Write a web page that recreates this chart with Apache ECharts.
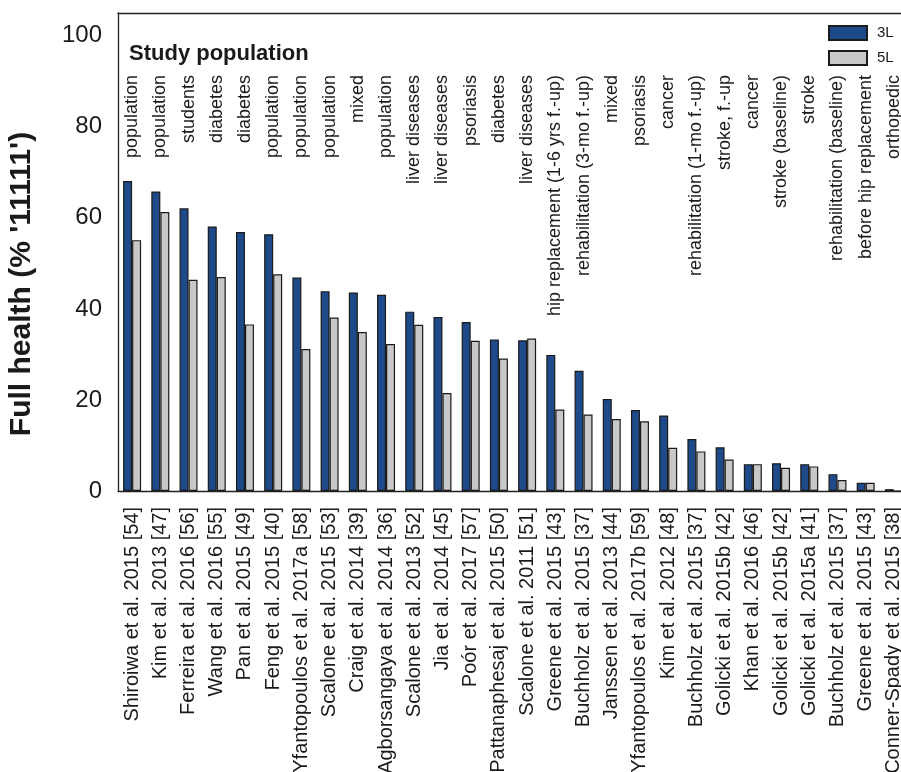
<!DOCTYPE html>
<html>
<head>
<meta charset="utf-8">
<title>Full health (% '11111') by study</title>
<script src="https://cdn.jsdelivr.net/npm/echarts@6/dist/echarts.min.js"></script>
<style>
  html, body { margin: 0; padding: 0; background: #fff; }
  #chart { width: 901px; height: 772px; }
</style>
</head>
<body>
<div id="chart"></div>
<script>
// Studies, ordered by share of respondents in full health (3L version)
const studies = [
  'Shiroiwa et al. 2015 [54]', 'Kim et al. 2013 [47]', 'Ferreira et al. 2016 [56]',
  'Wang et al. 2016 [55]', 'Pan et al. 2015 [49]', 'Feng et al. 2015 [40]',
  'Yfantopoulos et al. 2017a [58]', 'Scalone et al. 2015 [53]', 'Craig et al. 2014 [39]',
  'Agborsangaya et al. 2014 [36]', 'Scalone et al. 2013 [52]', 'Jia et al. 2014 [45]',
  'Poór et al. 2017 [57]', 'Pattanaphesaj et al. 2015 [50]', 'Scalone et al. 2011 [51]',
  'Greene et al. 2015 [43]', 'Buchholz et al. 2015 [37]', 'Janssen et al. 2013 [44]',
  'Yfantopoulos et al. 2017b [59]', 'Kim et al. 2012 [48]', 'Buchholz et al. 2015 [37]',
  'Golicki et al. 2015b [42]', 'Khan et al. 2016 [46]', 'Golicki et al. 2015b [42]',
  'Golicki et al. 2015a [41]', 'Buchholz et al. 2015 [37]', 'Greene et al. 2015 [43]',
  'Conner-Spady et al. 2015 [38]'
];

// Study population of each study
const populations = [
  'population', 'population', 'students', 'diabetes', 'diabetes', 'population',
  'population', 'population', 'mixed', 'population', 'liver diseases', 'liver diseases',
  'psoriasis', 'diabetes', 'liver diseases', 'hip replacement (1-6 yrs f.-up)',
  'rehabilitation (3-mo f.-up)', 'mixed', 'psoriasis', 'cancer',
  'rehabilitation (1-mo f.-up)', 'stroke, f.-up', 'cancer', 'stroke (baseline)',
  'stroke', 'rehabilitation (baseline)', 'before hip replacement', 'orthopedic'
];

// Percentage reporting '11111'
const values3L = [
  68.1, 65.8, 62.1, 58.1, 56.9, 56.4, 46.9, 43.9, 43.6, 43.1, 39.4, 38.2, 37.1, 33.3,
  33.1, 29.9, 26.4, 20.2, 17.8, 16.6, 11.4, 9.6, 5.9, 6.1, 5.9, 3.7, 1.8, 0.4
];
const values5L = [
  55.1, 61.3, 46.4, 47.0, 36.6, 47.6, 31.2, 38.1, 34.9, 32.3, 36.5, 21.5, 33.0, 29.1,
  33.5, 17.9, 16.8, 15.8, 15.3, 9.5, 8.7, 6.9, 5.9, 5.1, 5.4, 2.4, 1.8, 0
];

const yTicks = { min: 0, max: 105, interval: 20 };

const chart = echarts.init(document.getElementById('chart'));
const textColor = '#1a1a1a';
const lineStyle = { color: '#222', width: 1.3 };

chart.setOption({
  animation: false,
  backgroundColor: '#fff',
  title: {
    text: 'Study population',
    left: 124,
    top: 38,
    textStyle: { fontFamily: 'Liberation Sans', fontWeight: 'bold', fontSize: 22, color: textColor }
  },
  legend: {
    orient: 'vertical',
    left: 828,
    top: 25,
    padding: 0,
    icon: 'rect',
    itemWidth: 38,
    itemHeight: 14,
    itemGap: 9,
    textStyle: { fontFamily: 'Liberation Sans', fontSize: 15, color: textColor, padding: [0, 0, 0, 5] },
    data: ['3L', '5L']
  },
  grid: {
    left: 118, right: -7, top: 13, bottom: 281,
    containLabel: false,
    outerBoundsMode: 'none'
  },
  xAxis: [
    {
      type: 'category',
      position: 'bottom',
      data: studies,
      axisLine: { show: true, lineStyle: lineStyle },
      axisTick: { show: false },
      axisLabel: {
        interval: 0, rotate: 90, margin: 16,
        fontFamily: 'Liberation Sans', fontSize: 20, color: textColor
      }
    },
    {
      type: 'category',
      position: 'top',
      data: populations,
      axisLine: { show: true, onZero: false, lineStyle: lineStyle },
      axisTick: { show: false },
      axisLabel: {
        interval: 0, rotate: -90, inside: true, margin: 62,
        fontFamily: 'Liberation Sans', fontSize: 18, color: textColor
      }
    }
  ],
  yAxis: {
    type: 'value',
    min: yTicks.min,
    max: yTicks.max,
    interval: yTicks.interval,
    name: "Full health (% '11111')",
    nameLocation: 'middle',
    nameGap: 81,
    nameTextStyle: {
      fontFamily: 'Liberation Sans', fontWeight: 'bold', fontSize: 30, color: textColor,
      padding: [0, 64, 0, 0]
    },
    axisLine: { show: true, lineStyle: lineStyle },
    axisTick: { show: false },
    splitLine: { show: false },
    axisLabel: {
      showMaxLabel: false, margin: 16,
      fontFamily: 'Liberation Sans', fontSize: 24, color: textColor
    }
  },
  series: [
    {
      name: '3L',
      type: 'bar',
      xAxisIndex: 0,
      data: values3L,
      barWidth: 9,
      barGap: '0%',
      itemStyle: { color: '#1f4a8a', borderColor: '#1a1a1a', borderWidth: 1.2 }
    },
    {
      name: '5L',
      type: 'bar',
      xAxisIndex: 0,
      data: values5L,
      barWidth: 9,
      barGap: '0%',
      itemStyle: { color: '#c8c8c8', borderColor: '#1a1a1a', borderWidth: 1.2 }
    }
  ]
});
</script>
</body>
</html>
